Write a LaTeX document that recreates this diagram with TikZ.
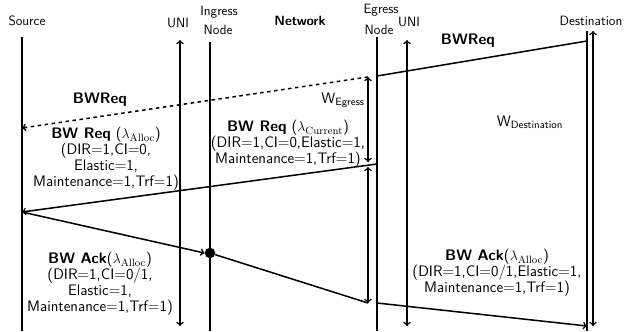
\documentclass[tikz,border=0pt]{standalone}
\usetikzlibrary{calc}
\tikzset{
  lifeline/.style={line width=1.3pt},
  window/.style={line width=1.3pt, <->},
  msg/.style={line width=1.3pt, ->},
  msgPlain/.style={line width=1.3pt},
  msgDashed/.style={line width=1.3pt, ->, dashed},
  head/.style={font=\sffamily\fontsize{11.5}{12}\selectfont, inner sep=0pt},
  txt/.style={font=\sffamily\fontsize{13}{13.7}\selectfont, align=center, inner sep=0pt},
  dot/.style={circle,fill=black,inner sep=0pt,minimum size=9pt},
}

\begin{document}
\begin{tikzpicture}[x=0.03cm,y=-0.03cm]
        \useasboundingbox (0,0) rectangle (625,331);
        % headers
        \node[head] (src) at (27,21) {Source};
        \node[head] (uniA) at (178,23) {UNI};
        \node[head] (ingA) at (219,12) {Ingress};
        \node[head] (ingB) at (218,30) {Node};
        \node[head] (net) at (300,21) {\bfseries Network};
        \node[head] (egA) at (381,10) {Egress};
        \node[head] (egB) at (379,30) {Node};
        \node[head] (uniB) at (409,22) {UNI};
        \node[head] (dst) at (591,21) {Destination};

        % life lines
        \foreach \n/\x/\y in {srcL/22/37, ingL/210/42, egL/377/37, dstL/587/31}{
          \coordinate (\n top) at (\x,\y);
          \coordinate (\n bot) at (\x,331);
          \draw[lifeline] (\n top) -- (\n bot);
        }

        % UNI and destination windows
        \foreach \n/\x/\y in {uniAL/180/40, uniBL/407/40, dstW/593/31}{
          \coordinate (\n top) at (\x,\y);
          \coordinate (\n bot) at (\x,326);
          \draw[window] (\n top) -- (\n bot);
        }

        % egress windows
        \coordinate (wA) at (368,77);
        \coordinate (wB) at (368,162);
        \coordinate (wC) at (368,167);
        \coordinate (wD) at (368,303);
        \draw[window] (wA) -- (wB);
        \draw[window] (wC) -- (wD);

        % message points
        \coordinate (p1) at (587,41);
        \coordinate (p2) at (377,76);
        \coordinate (p3) at (22,128);
        \coordinate (p4) at (377,164);
        \coordinate (p5) at (22,212);
        \node[dot] (ack) at (210,253) {};
        \coordinate (p6) at (377,303);
        \coordinate (p7) at (587,326);

        \draw[msgPlain] (p1) -- (p2);
        \draw[msgDashed] (wA) -- (p3);
        \draw[msg] (p4) -- (p5);
        \draw[msg] (p5) -- (ack.west);
        \draw[msgPlain] (ack) -- (wD);
        \draw[msg] (p6) -- (p7);

        % labels
        \node[txt] (reqD) at (468,41) {\bfseries BWReq};
        \node[txt] (reqS) at (100,100) {\bfseries BWReq};
        \node[txt] (reqA) at (106,159) {{\bfseries BW Req} ($\lambda_{\mathrm{Alloc}}$)\\(DIR=1,CI=0,\\Elastic=1,\\Maintenance=1,Trf=1)};
        \node[txt] (reqC) at (288,144) {{\bfseries BW Req} ($\lambda_{\mathrm{Current}}$)\\(DIR=1,CI=0,Elastic=1,\\Maintenance=1,Trf=1)};
        \node[txt] (wEg) at (343,100) {W$_{\mathsf{Egress}}$};
        \node[txt] (wDs) at (530,122) {W$_{\mathsf{Destination}}$};
        \node[txt] (ackA) at (100,284) {{\bfseries BW Ack}($\lambda_{\mathrm{Alloc}}$)\\(DIR=1,CI=0/1,\\Elastic=1,\\Maintenance=1,Trf=1)};
        \node[txt] (ackD) at (497,273) {{\bfseries BW Ack}($\lambda_{\mathrm{Alloc}}$)\\(DIR=1,CI=0/1,Elastic=1,\\Maintenance=1,Trf=1)};
    \end{tikzpicture}
\end{document}
